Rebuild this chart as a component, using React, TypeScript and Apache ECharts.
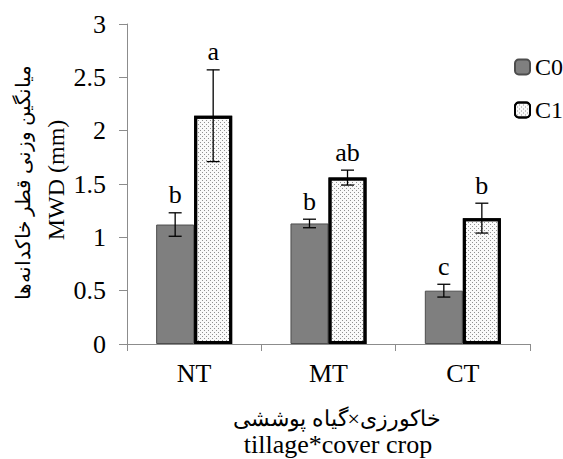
import React, { useEffect, useRef } from "react";
import * as echarts from "echarts";

const categories = ["NT", "MT", "CT"];
const seriesNames = ["C0", "C1"];
const c0Values = [1.12, 1.13, 0.5];
const c1Values = [2.14, 1.56, 1.18];
const c0Errors = [0.11, 0.04, 0.06];
const c1Errors = [0.43, 0.07, 0.14];
const c0Letters = ["b", "b", "c"];
const c1Letters = ["a", "ab", "b"];
const yTicks = [0, 0.5, 1, 1.5, 2, 2.5, 3];

const FONT = "Liberation Serif, DejaVu Serif, serif";
const BAR_RATIO = 0.283;

export default function App() {
  const ref = useRef<HTMLDivElement>(null);
  useEffect(() => {
    if (!ref.current) return;
    const chart = echarts.init(ref.current, undefined, { renderer: "svg" });

    const errData: any[] = [];
    categories.forEach((_, i) => {
      errData.push([i, c0Values[i], c0Values[i] - c0Errors[i], c0Values[i] + c0Errors[i], c0Letters[i], -1]);
      errData.push([i, c1Values[i], c1Values[i] - c1Errors[i], c1Values[i] + c1Errors[i], c1Letters[i], 1]);
    });

    chart.setOption({
      animation: false,
      backgroundColor: "#ffffff",
      grid: { left: 127, top: 24, width: 403, height: 320, containLabel: false },
      legend: {
        orient: "vertical",
        left: 509,
        top: 50,
        itemWidth: 15,
        itemHeight: 15,
        itemGap: 19,
        itemTextGap: 4,
        data: seriesNames,
        textStyle: { fontFamily: FONT, fontSize: 24, color: "#000" },
      },
      xAxis: {
        type: "category",
        data: categories,
        axisLine: { lineStyle: { color: "#8c8c8c", width: 1 } },
        axisTick: { show: true, length: 7, lineStyle: { color: "#8c8c8c" } },
        axisLabel: { fontFamily: FONT, fontSize: 26, color: "#000", margin: 16 },
      },
      yAxis: {
        type: "value",
        min: 0,
        max: 3,
        interval: 0.5,
        splitLine: { show: false },
        axisLine: { show: true, lineStyle: { color: "#8c8c8c", width: 1 } },
        axisTick: { show: true, length: 8, lineStyle: { color: "#8c8c8c" } },
        axisLabel: {
          fontFamily: FONT,
          fontSize: 26,
          color: "#000",
          margin: 21,
          formatter: (v: number) => (yTicks.includes(v) ? String(v) : ""),
        },
      },
      graphic: [
        {
          type: "text",
          x: 23,
          y: 182,
          rotation: Math.PI / 2,
          style: {
            text: "میانگین وزنی قطر خاکدانه‌ها",
            fontFamily: FONT,
            fontSize: 20,
            fill: "#000",
            align: "center",
            verticalAlign: "middle",
          },
        },
        {
          type: "text",
          x: 56,
          y: 180,
          rotation: Math.PI / 2,
          style: {
            text: "MWD (mm)",
            fontFamily: FONT,
            fontSize: 24,
            fill: "#000",
            align: "center",
            verticalAlign: "middle",
          },
        },
        {
          type: "text",
          x: 337,
          y: 418,
          style: {
            text: "خاکورزی×گیاه پوششی",
            fontFamily: FONT,
            fontSize: 22,
            fill: "#000",
            align: "center",
            verticalAlign: "middle",
          },
        },
        {
          type: "text",
          x: 338,
          y: 444,
          style: {
            text: "tillage*cover crop",
            fontFamily: FONT,
            fontSize: 26,
            fill: "#000",
            align: "center",
            verticalAlign: "middle",
          },
        },
      ],
      series: [
        {
          name: "C0",
          type: "bar",
          data: c0Values,
          barWidth: `${BAR_RATIO * 100}%`,
          barGap: "0%",
          itemStyle: { color: "#7f7f7f", borderColor: "#4d4d4d", borderWidth: 1 },
        },
        {
          name: "C1",
          type: "bar",
          data: c1Values,
          barWidth: `${BAR_RATIO * 100}%`,
          barGap: "0%",
          itemStyle: {
            color: "#fafafa",
            borderColor: "#000",
            borderWidth: 3,
            decal: {
              symbol: "rect",
              symbolSize: 1,
              color: "rgba(100,100,100,0.7)",
              dashArrayX: [[1, 3], [0, 2, 1, 1]],
              dashArrayY: [1, 1],
              rotation: 0,
            },
          },
        },
        {
          name: "err",
          type: "custom",
          data: errData,
          z: 10,
          renderItem: (params: any, api: any) => {
            const idx = api.value(0);
            const lo = api.coord([idx, api.value(2)]);
            const hi = api.coord([idx, api.value(3)]);
            const bw = api.size([1, 0])[0] * BAR_RATIO;
            const sign = api.value(5);
            const x = lo[0] + (sign * bw) / 2;
            const cap = 6.5;
            const letter = errData[params.dataIndex][4];
            return {
              type: "group",
              children: [
                { type: "line", shape: { x1: x, y1: lo[1], x2: x, y2: hi[1] }, style: { stroke: "#000", lineWidth: 1.3 } },
                { type: "line", shape: { x1: x - cap, y1: lo[1], x2: x + cap, y2: lo[1] }, style: { stroke: "#000", lineWidth: 1.3 } },
                { type: "line", shape: { x1: x - cap, y1: hi[1], x2: x + cap, y2: hi[1] }, style: { stroke: "#000", lineWidth: 1.3 } },
                {
                  type: "text",
                  x: x,
                  y: hi[1] - 5,
                  style: { text: letter, fontFamily: FONT, fontSize: 26, fill: "#000", align: "center", verticalAlign: "bottom" },
                },
              ],
            };
          },
        },
      ],
    });
    return () => chart.dispose();
  }, []);
  return <div ref={ref} style={{ width: 563, height: 459, position: "absolute", left: 0, top: 0 }} />;
}
